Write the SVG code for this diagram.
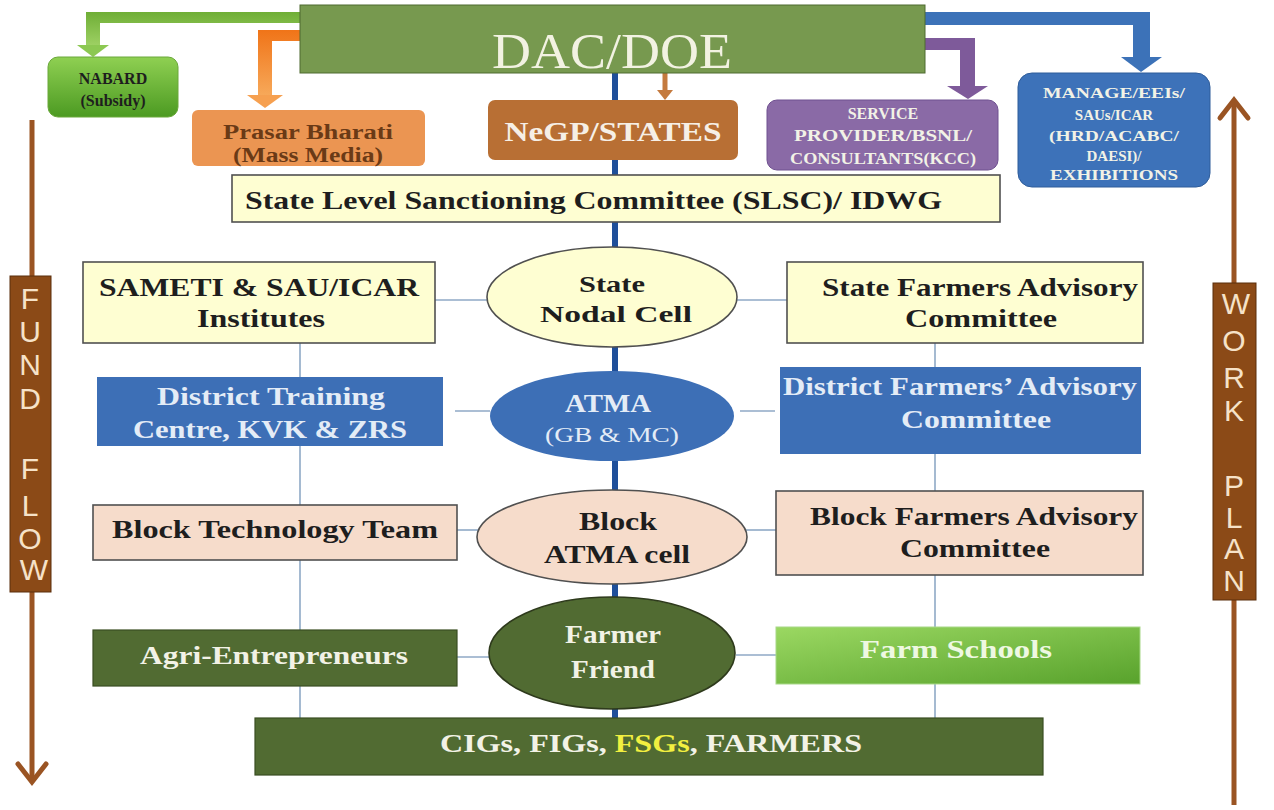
<svg xmlns="http://www.w3.org/2000/svg" width="1274" height="810" viewBox="0 0 1274 810">
<defs>
<linearGradient id="gNab" x1="0" y1="0" x2="0" y2="1"><stop offset="0" stop-color="#8fd052"/><stop offset="1" stop-color="#4c9a22"/></linearGradient>
<linearGradient id="gFarm" x1="0" y1="0" x2="1" y2="1"><stop offset="0" stop-color="#9bd862"/><stop offset="1" stop-color="#58a22c"/></linearGradient>
<linearGradient id="gOr" x1="0" y1="0" x2="0" y2="1"><stop offset="0" stop-color="#f07418"/><stop offset="1" stop-color="#f7a95a"/></linearGradient>
<linearGradient id="gGr" x1="0" y1="0" x2="0" y2="1"><stop offset="0" stop-color="#6fae36"/><stop offset="1" stop-color="#9ed164"/></linearGradient>
<style>
.t{font-family:"Liberation Serif","Times New Roman",serif;font-weight:bold;text-anchor:middle}
.dk{fill:#1e1e1e}
.wh{fill:#f2f2e6}
.lt{fill:#e4ecf6}
.ltr{font-family:"Liberation Sans",Arial,sans-serif;font-size:30px;fill:#f6e2c8;text-anchor:middle}
.thin{stroke:#8fa9c6;stroke-width:1.6;fill:none}
.spine{stroke:#1f4f9a;stroke-width:6;fill:none}
.bx{stroke:#505050;stroke-width:1.6}
.brown{stroke:#9a5423;stroke-width:5;fill:none}
</style>
</defs>
<rect width="1274" height="810" fill="#ffffff"/>

<g id="connectors">
<line class="spine" x1="615" y1="73" x2="615" y2="100"/>
<line class="spine" x1="615" y1="160" x2="615" y2="176"/>
<line class="spine" x1="615" y1="222" x2="615" y2="248"/>
<line class="spine" x1="615" y1="346" x2="615" y2="372"/>
<line class="spine" x1="615" y1="460" x2="615" y2="491"/>
<line class="spine" x1="615" y1="583" x2="615" y2="599"/>
<line class="spine" x1="615" y1="709" x2="615" y2="719"/>
<line class="thin" x1="300" y1="343" x2="300" y2="377"/>
<line class="thin" x1="300" y1="446" x2="300" y2="505"/>
<line class="thin" x1="300" y1="560" x2="300" y2="630"/>
<line class="thin" x1="300" y1="686" x2="300" y2="718"/>
<line class="thin" x1="935" y1="343" x2="935" y2="367"/>
<line class="thin" x1="935" y1="454" x2="935" y2="491"/>
<line class="thin" x1="935" y1="575" x2="935" y2="627"/>
<line class="thin" x1="935" y1="684" x2="935" y2="718"/>
<line class="thin" x1="435" y1="300" x2="490" y2="300"/>
<line class="thin" x1="735" y1="300" x2="787" y2="300"/>
<line class="thin" x1="455" y1="411" x2="490" y2="411"/>
<line class="thin" x1="740" y1="411" x2="775" y2="411"/>
<line class="thin" x1="457" y1="530" x2="478" y2="530"/>
<line class="thin" x1="746" y1="530" x2="776" y2="530"/>
<line class="thin" x1="457" y1="657" x2="490" y2="657"/>
<line class="thin" x1="736" y1="655" x2="776" y2="655"/>
<path d="M300,12 H86 V46 H100 V23 H300 Z" fill="url(#gGr)"/>
<polygon points="77,45 109,45 93,57" fill="#8cc852"/>
<path d="M300,30 H258 V96 H272 V41 H300 Z" fill="url(#gOr)"/>
<polygon points="247,95 283,95 265,108" fill="#f6a050"/>
<path d="M925,38 H975 V87 H960 V50 H925 Z" fill="#7e5a9a"/>
<polygon points="947,86 988,86 968,99" fill="#7e5a9a"/>
<path d="M925,12 H1150 V58 H1133 V25 H925 Z" fill="#3c72b8"/>
<polygon points="1121,57 1162,57 1141,72" fill="#3c72b8"/>
<line x1="665" y1="73" x2="665" y2="92" stroke="#c47a3e" stroke-width="5"/>
<polygon points="657,90 673,90 665,100" fill="#c47a3e"/>
<line class="brown" x1="32" y1="120" x2="32" y2="782"/>
<polyline class="brown" points="18,764 32,782 46,764" stroke-linecap="round"/>
<line class="brown" x1="1234" y1="100" x2="1234" y2="805"/>
<polyline class="brown" points="1220,118 1234,100 1248,118" stroke-linecap="round"/>
</g>

<g id="dac">
<rect x="300" y="5" width="625" height="68" fill="#77994f" stroke="#4f6a30" stroke-width="1"/>
<text class="t" x="612" y="68" font-size="50" fill="#f2f2e2" style="font-weight:normal" textLength="240" lengthAdjust="spacingAndGlyphs">DAC/DOE</text>
</g>

<g id="nabard">
<rect x="48" y="57" width="130" height="60" rx="10" fill="url(#gNab)" stroke="#6aa83a" stroke-width="1"/>
<text class="t dk" x="113" y="84" font-size="16">NABARD</text>
<text class="t dk" x="113" y="106" font-size="16">(Subsidy)</text>
</g>

<g id="prasar">
<rect x="192" y="110" width="233" height="56" rx="6" fill="#eb9552"/>
<text class="t" x="308" y="139" font-size="20" fill="#6a3a16" textLength="170" lengthAdjust="spacingAndGlyphs">Prasar Bharati</text>
<text class="t" x="308" y="162" font-size="20" fill="#6a3a16" textLength="150" lengthAdjust="spacingAndGlyphs">(Mass Media)</text>
</g>

<g id="negp">
<rect x="488" y="100" width="250" height="60" rx="7" fill="#b86f34"/>
<text class="t" x="613" y="141" font-size="27" fill="#f6efe6" textLength="217" lengthAdjust="spacingAndGlyphs">NeGP/STATES</text>
</g>

<g id="service">
<rect x="767" y="100" width="231" height="70" rx="10" fill="#8a6aa6" stroke="#6f5090" stroke-width="1"/>
<text class="t wh" x="883" y="119" font-size="16">SERVICE</text>
<text class="t wh" x="883" y="141" font-size="16" textLength="178" lengthAdjust="spacingAndGlyphs">PROVIDER/BSNL/</text>
<text class="t wh" x="883" y="164" font-size="16" textLength="186" lengthAdjust="spacingAndGlyphs">CONSULTANTS(KCC)</text>
</g>

<g id="manage">
<rect x="1018" y="73" width="192" height="114" rx="14" fill="#3d72b9" stroke="#2e5c9a" stroke-width="1"/>
<text class="t wh" x="1114" y="98" font-size="15" textLength="142" lengthAdjust="spacingAndGlyphs">MANAGE/EEIs/</text>
<text class="t wh" x="1114" y="120" font-size="15">SAUs/ICAR</text>
<text class="t wh" x="1114" y="141" font-size="15" textLength="130" lengthAdjust="spacingAndGlyphs">(HRD/ACABC/</text>
<text class="t wh" x="1114" y="161" font-size="15">DAESI)/</text>
<text class="t wh" x="1114" y="180" font-size="15" textLength="128" lengthAdjust="spacingAndGlyphs">EXHIBITIONS</text>
</g>

<g id="slsc">
<rect class="bx" x="232" y="175" width="768" height="47" fill="#fefed2"/>
<text class="t dk" x="245" y="209" font-size="26" style="text-anchor:start" textLength="697" lengthAdjust="spacingAndGlyphs">State Level Sanctioning Committee (SLSC)/  IDWG</text>
</g>

<g id="sameti">
<rect class="bx" x="83" y="262" width="352" height="81" fill="#fefed2"/>
<text class="t dk" x="259" y="296" font-size="25" textLength="320" lengthAdjust="spacingAndGlyphs">SAMETI &amp; SAU/ICAR</text>
<text class="t dk" x="261" y="327" font-size="25" textLength="128" lengthAdjust="spacingAndGlyphs">Institutes</text>
</g>

<g id="state-nodal">
<ellipse class="bx" cx="612" cy="297" rx="125" ry="50" fill="#fefed2"/>
<text class="t dk" x="612" y="292" font-size="24" textLength="66" lengthAdjust="spacingAndGlyphs">State</text>
<text class="t dk" x="616" y="322" font-size="24" textLength="152" lengthAdjust="spacingAndGlyphs">Nodal Cell</text>
</g>

<g id="state-farmers">
<rect class="bx" x="787" y="262" width="356" height="81" fill="#fefed2"/>
<text class="t dk" x="980" y="296" font-size="25" textLength="316" lengthAdjust="spacingAndGlyphs">State Farmers Advisory</text>
<text class="t dk" x="981" y="327" font-size="25" textLength="152" lengthAdjust="spacingAndGlyphs">Committee</text>
</g>

<g id="district-training">
<rect x="97" y="377" width="346" height="69" fill="#3d6fb6"/>
<text class="t lt" x="271" y="405" font-size="25" textLength="228" lengthAdjust="spacingAndGlyphs">District Training</text>
<text class="t lt" x="270" y="438" font-size="25" textLength="274" lengthAdjust="spacingAndGlyphs">Centre, KVK &amp; ZRS</text>
</g>

<g id="atma">
<ellipse cx="612" cy="416" rx="122" ry="45" fill="#3d6fb6"/>
<text class="t lt" x="608" y="412" font-size="25" textLength="86" lengthAdjust="spacingAndGlyphs">ATMA</text>
<text class="t lt" x="612" y="442" font-size="22" style="font-weight:normal" textLength="134" lengthAdjust="spacingAndGlyphs">(GB &amp; MC)</text>
</g>

<g id="district-farmers">
<rect x="780" y="367" width="361" height="87" fill="#3d6fb6"/>
<text class="t lt" x="960" y="395" font-size="25" textLength="354" lengthAdjust="spacingAndGlyphs">District Farmers’ Advisory</text>
<text class="t lt" x="976" y="428" font-size="25" textLength="150" lengthAdjust="spacingAndGlyphs">Committee</text>
</g>

<g id="block-tech">
<rect class="bx" x="93" y="505" width="364" height="55" fill="#f6dccb"/>
<text class="t dk" x="275" y="538" font-size="25" textLength="326" lengthAdjust="spacingAndGlyphs">Block Technology Team</text>
</g>

<g id="block-atma">
<ellipse class="bx" cx="612" cy="537" rx="135" ry="47" fill="#f6dccb"/>
<text class="t dk" x="618" y="530" font-size="25" textLength="78" lengthAdjust="spacingAndGlyphs">Block</text>
<text class="t dk" x="617" y="563" font-size="25" textLength="146" lengthAdjust="spacingAndGlyphs">ATMA cell</text>
</g>

<g id="block-farmers">
<rect class="bx" x="776" y="491" width="367" height="84" fill="#f6dccb"/>
<text class="t dk" x="974" y="525" font-size="25" textLength="328" lengthAdjust="spacingAndGlyphs">Block Farmers Advisory</text>
<text class="t dk" x="975" y="557" font-size="25" textLength="150" lengthAdjust="spacingAndGlyphs">Committee</text>
</g>

<g id="agri">
<rect x="93" y="630" width="364" height="56" fill="#516b32" stroke="#3a4e22" stroke-width="1.2"/>
<text class="t wh" x="274" y="664" font-size="25" textLength="268" lengthAdjust="spacingAndGlyphs">Agri-Entrepreneurs</text>
</g>

<g id="farmer-friend">
<ellipse cx="612" cy="653" rx="123" ry="56" fill="#516b32" stroke="#2e3a1c" stroke-width="1.6"/>
<text class="t wh" x="613" y="643" font-size="25" textLength="96" lengthAdjust="spacingAndGlyphs">Farmer</text>
<text class="t wh" x="613" y="678" font-size="25" textLength="84" lengthAdjust="spacingAndGlyphs">Friend</text>
</g>

<g id="farm-schools">
<rect x="776" y="627" width="364" height="57" fill="url(#gFarm)" stroke="#a8d888" stroke-width="1"/>
<text class="t" x="956" y="658" font-size="25" fill="#eef8e2" textLength="192" lengthAdjust="spacingAndGlyphs">Farm  Schools</text>
</g>

<g id="cigs">
<rect x="255" y="718" width="788" height="57" fill="#516b32" stroke="#3a4e22" stroke-width="1.2"/>
<text class="t wh" x="651" y="752" font-size="25" textLength="422" lengthAdjust="spacingAndGlyphs">CIGs, FIGs,  <tspan fill="#f2f040">FSGs</tspan>, FARMERS</text>
</g>

<g id="fund-flow">
<rect x="10" y="276" width="41" height="316" fill="#8b4a17" stroke="#5a2e0c" stroke-width="1"/>
<text class="ltr" x="30" y="309">F</text>
<text class="ltr" x="30" y="342">U</text>
<text class="ltr" x="30" y="375">N</text>
<text class="ltr" x="30" y="409">D</text>
<text class="ltr" x="30" y="479">F</text>
<text class="ltr" x="30" y="516">L</text>
<text class="ltr" x="30" y="549">O</text>
<text class="ltr" x="34" y="580">W</text>
</g>

<g id="work-plan">
<rect x="1213" y="283" width="43" height="317" fill="#8b4a17" stroke="#5a2e0c" stroke-width="1"/>
<text class="ltr" x="1236" y="314" font-size="28">W</text>
<text class="ltr" x="1234" y="351" font-size="28">O</text>
<text class="ltr" x="1234" y="388" font-size="28">R</text>
<text class="ltr" x="1234" y="421" font-size="28">K</text>
<text class="ltr" x="1234" y="496" font-size="28">P</text>
<text class="ltr" x="1234" y="528" font-size="28">L</text>
<text class="ltr" x="1234" y="559" font-size="28">A</text>
<text class="ltr" x="1234" y="591" font-size="28">N</text>
</g>
</svg>
